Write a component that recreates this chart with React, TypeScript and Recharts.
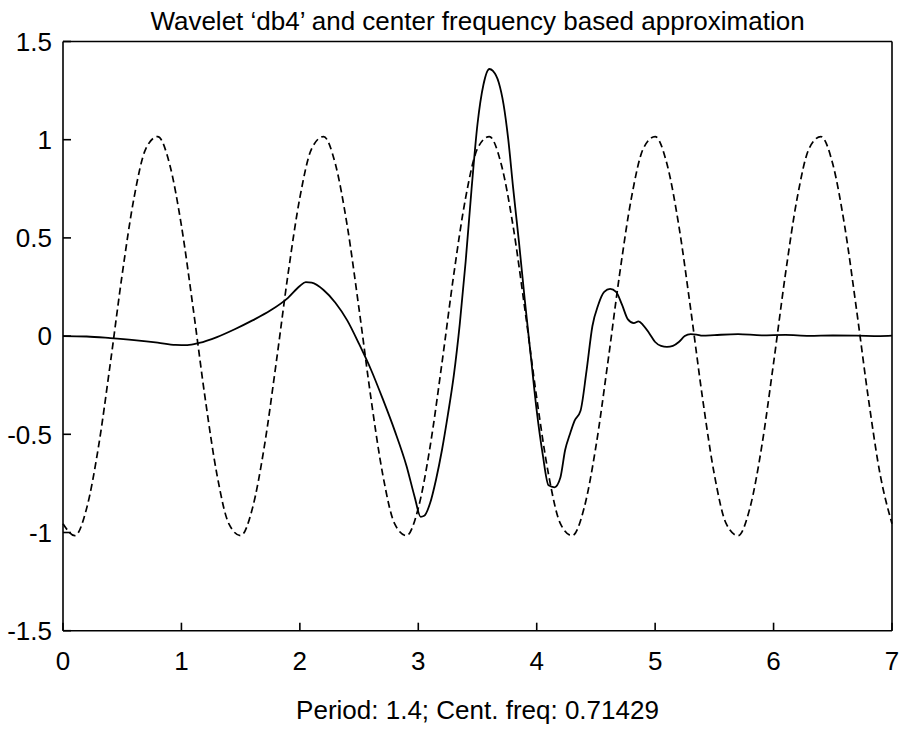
import React from 'react';
import { LineChart, Line, XAxis, YAxis } from 'recharts';

const xTicks = [0, 1, 2, 3, 4, 5, 6, 7];
const yTicks = [-1.5, -1, -0.5, 0, 0.5, 1, 1.5];

// center frequency approximation (dashed), sampled every 0.1
const approxStep = 0.1;
const approxValues = [
  -0.955, -1.016, -0.876, -0.562, -0.137, 0.315, 0.705, 0.955, 1.016, 0.876, 0.562, 0.137, -0.315, -0.705,
  -0.955, -1.016, -0.876, -0.562, -0.137, 0.315, 0.705, 0.955, 1.016, 0.876, 0.562, 0.137, -0.315, -0.705,
  -0.955, -1.016, -0.876, -0.562, -0.137, 0.315, 0.705, 0.955, 1.016, 0.876, 0.562, 0.137, -0.315, -0.705,
  -0.955, -1.016, -0.876, -0.562, -0.137, 0.315, 0.705, 0.955, 1.016, 0.876, 0.562, 0.137, -0.315, -0.705,
  -0.955, -1.016, -0.876, -0.562, -0.137, 0.315, 0.705, 0.955, 1.016, 0.876, 0.562, 0.137, -0.315, -0.705,
  -0.955,
];

// db4 wavelet (solid)
const waveX = [
  0, 0.2, 0.4, 0.6, 0.8, 0.95, 1.05, 1.15, 1.3, 1.45, 1.6, 1.75, 1.9, 2.0, 2.05, 2.1, 2.2, 2.3, 2.4, 2.5,
  2.6, 2.7, 2.8, 2.9, 2.97, 3.02, 3.05, 3.1, 3.15, 3.2, 3.25, 3.3, 3.35, 3.4, 3.45, 3.5, 3.55, 3.6, 3.63, 3.68,
  3.72, 3.76, 3.8, 3.85, 3.9, 3.95, 4.0, 4.05, 4.1, 4.15, 4.2, 4.24, 4.28, 4.32, 4.37, 4.42, 4.47, 4.52, 4.57, 4.62,
  4.67, 4.72, 4.77, 4.82, 4.86, 4.9, 4.95, 5.0, 5.05, 5.1, 5.15, 5.2, 5.25, 5.3, 5.35, 5.4, 5.5, 5.7, 5.9, 6.1,
  6.3, 6.5, 6.7, 6.9, 7.0,
];
const waveY = [
  0, -0.002, -0.01, -0.02, -0.033, -0.045, -0.046, -0.035, -0.005, 0.035, 0.08, 0.13, 0.195, 0.255, 0.275, 0.272, 0.235, 0.17, 0.08, -0.04,
  -0.17, -0.32, -0.48, -0.66, -0.82, -0.92, -0.915, -0.85, -0.73, -0.58, -0.4, -0.2, 0.06, 0.38, 0.75, 1.08, 1.28, 1.36, 1.35, 1.29,
  1.18, 1.0, 0.76, 0.48, 0.18, -0.1, -0.38, -0.6, -0.76, -0.77, -0.72, -0.58, -0.5, -0.43, -0.38, -0.18, 0.05, 0.16, 0.225, 0.24,
  0.225, 0.16, 0.085, 0.066, 0.075, 0.055, 0.015, -0.03, -0.05, -0.055, -0.05, -0.03, 0.0, 0.01, 0.008, 0.002, 0.005, 0.01, 0.004, 0.006,
  0.001, 0.003, 0.002, 0.0, 0.002,
];

const approxData = approxValues.map((y, i) => ({ x: Math.round(i * approxStep * 10) / 10, y }));
const waveData = waveX.map((x, i) => ({ x, y: waveY[i] }));

const font = '"Liberation Sans", Arial, sans-serif';
const tickStyle = { fill: '#000', fontSize: 26, fontFamily: font };
const frame = { stroke: '#000', strokeWidth: 1.6 };

export default function App() {
  return (
    <div style={{ position: 'absolute', left: 0, top: 0, width: 905, height: 729, background: '#fff' }}>
      <LineChart width={905} height={729} margin={{ top: 0, right: 0, bottom: 0, left: 0 }}>
        <XAxis
          dataKey="x"
          type="number"
          domain={[0, 7]}
          ticks={xTicks}
          height={98.3}
          tickSize={-8}
          tickMargin={29}
          axisLine={frame}
          tickLine={frame}
          tick={tickStyle}
          label={{ value: 'Period: 1.4; Cent. freq: 0.71429', position: 'insideBottom', offset: 10, fill: '#000', fontSize: 26, fontFamily: font }}
        />
        <XAxis
          xAxisId="top"
          orientation="top"
          dataKey="x"
          type="number"
          domain={[0, 7]}
          ticks={xTicks}
          height={41.5}
          tickSize={-8}
          axisLine={frame}
          tickLine={frame}
          tickFormatter={() => ''}
          label={{ value: 'Wavelet \u2018db4\u2019 and center frequency based approximation', position: 'insideTop', offset: 12, fill: '#000', fontSize: 26, fontFamily: font }}
        />
        <YAxis
          type="number"
          domain={[-1.5, 1.5]}
          ticks={yTicks}
          width={63}
          tickSize={-8}
          tickMargin={19}
          axisLine={frame}
          tickLine={frame}
          tick={tickStyle}
        />
        <YAxis
          yAxisId="right"
          orientation="right"
          type="number"
          domain={[-1.5, 1.5]}
          ticks={yTicks}
          width={13}
          tickSize={-8}
          axisLine={frame}
          tickLine={frame}
          tickFormatter={() => ''}
        />
        <Line
          data={approxData}
          dataKey="y"
          type="monotone"
          stroke="#000"
          strokeWidth={1.7}
          strokeDasharray="7 4"
          dot={false}
          isAnimationActive={false}
        />
        <Line
          data={waveData}
          dataKey="y"
          type="monotone"
          stroke="#000"
          strokeWidth={1.8}
          dot={false}
          isAnimationActive={false}
        />
      </LineChart>
    </div>
  );
}
